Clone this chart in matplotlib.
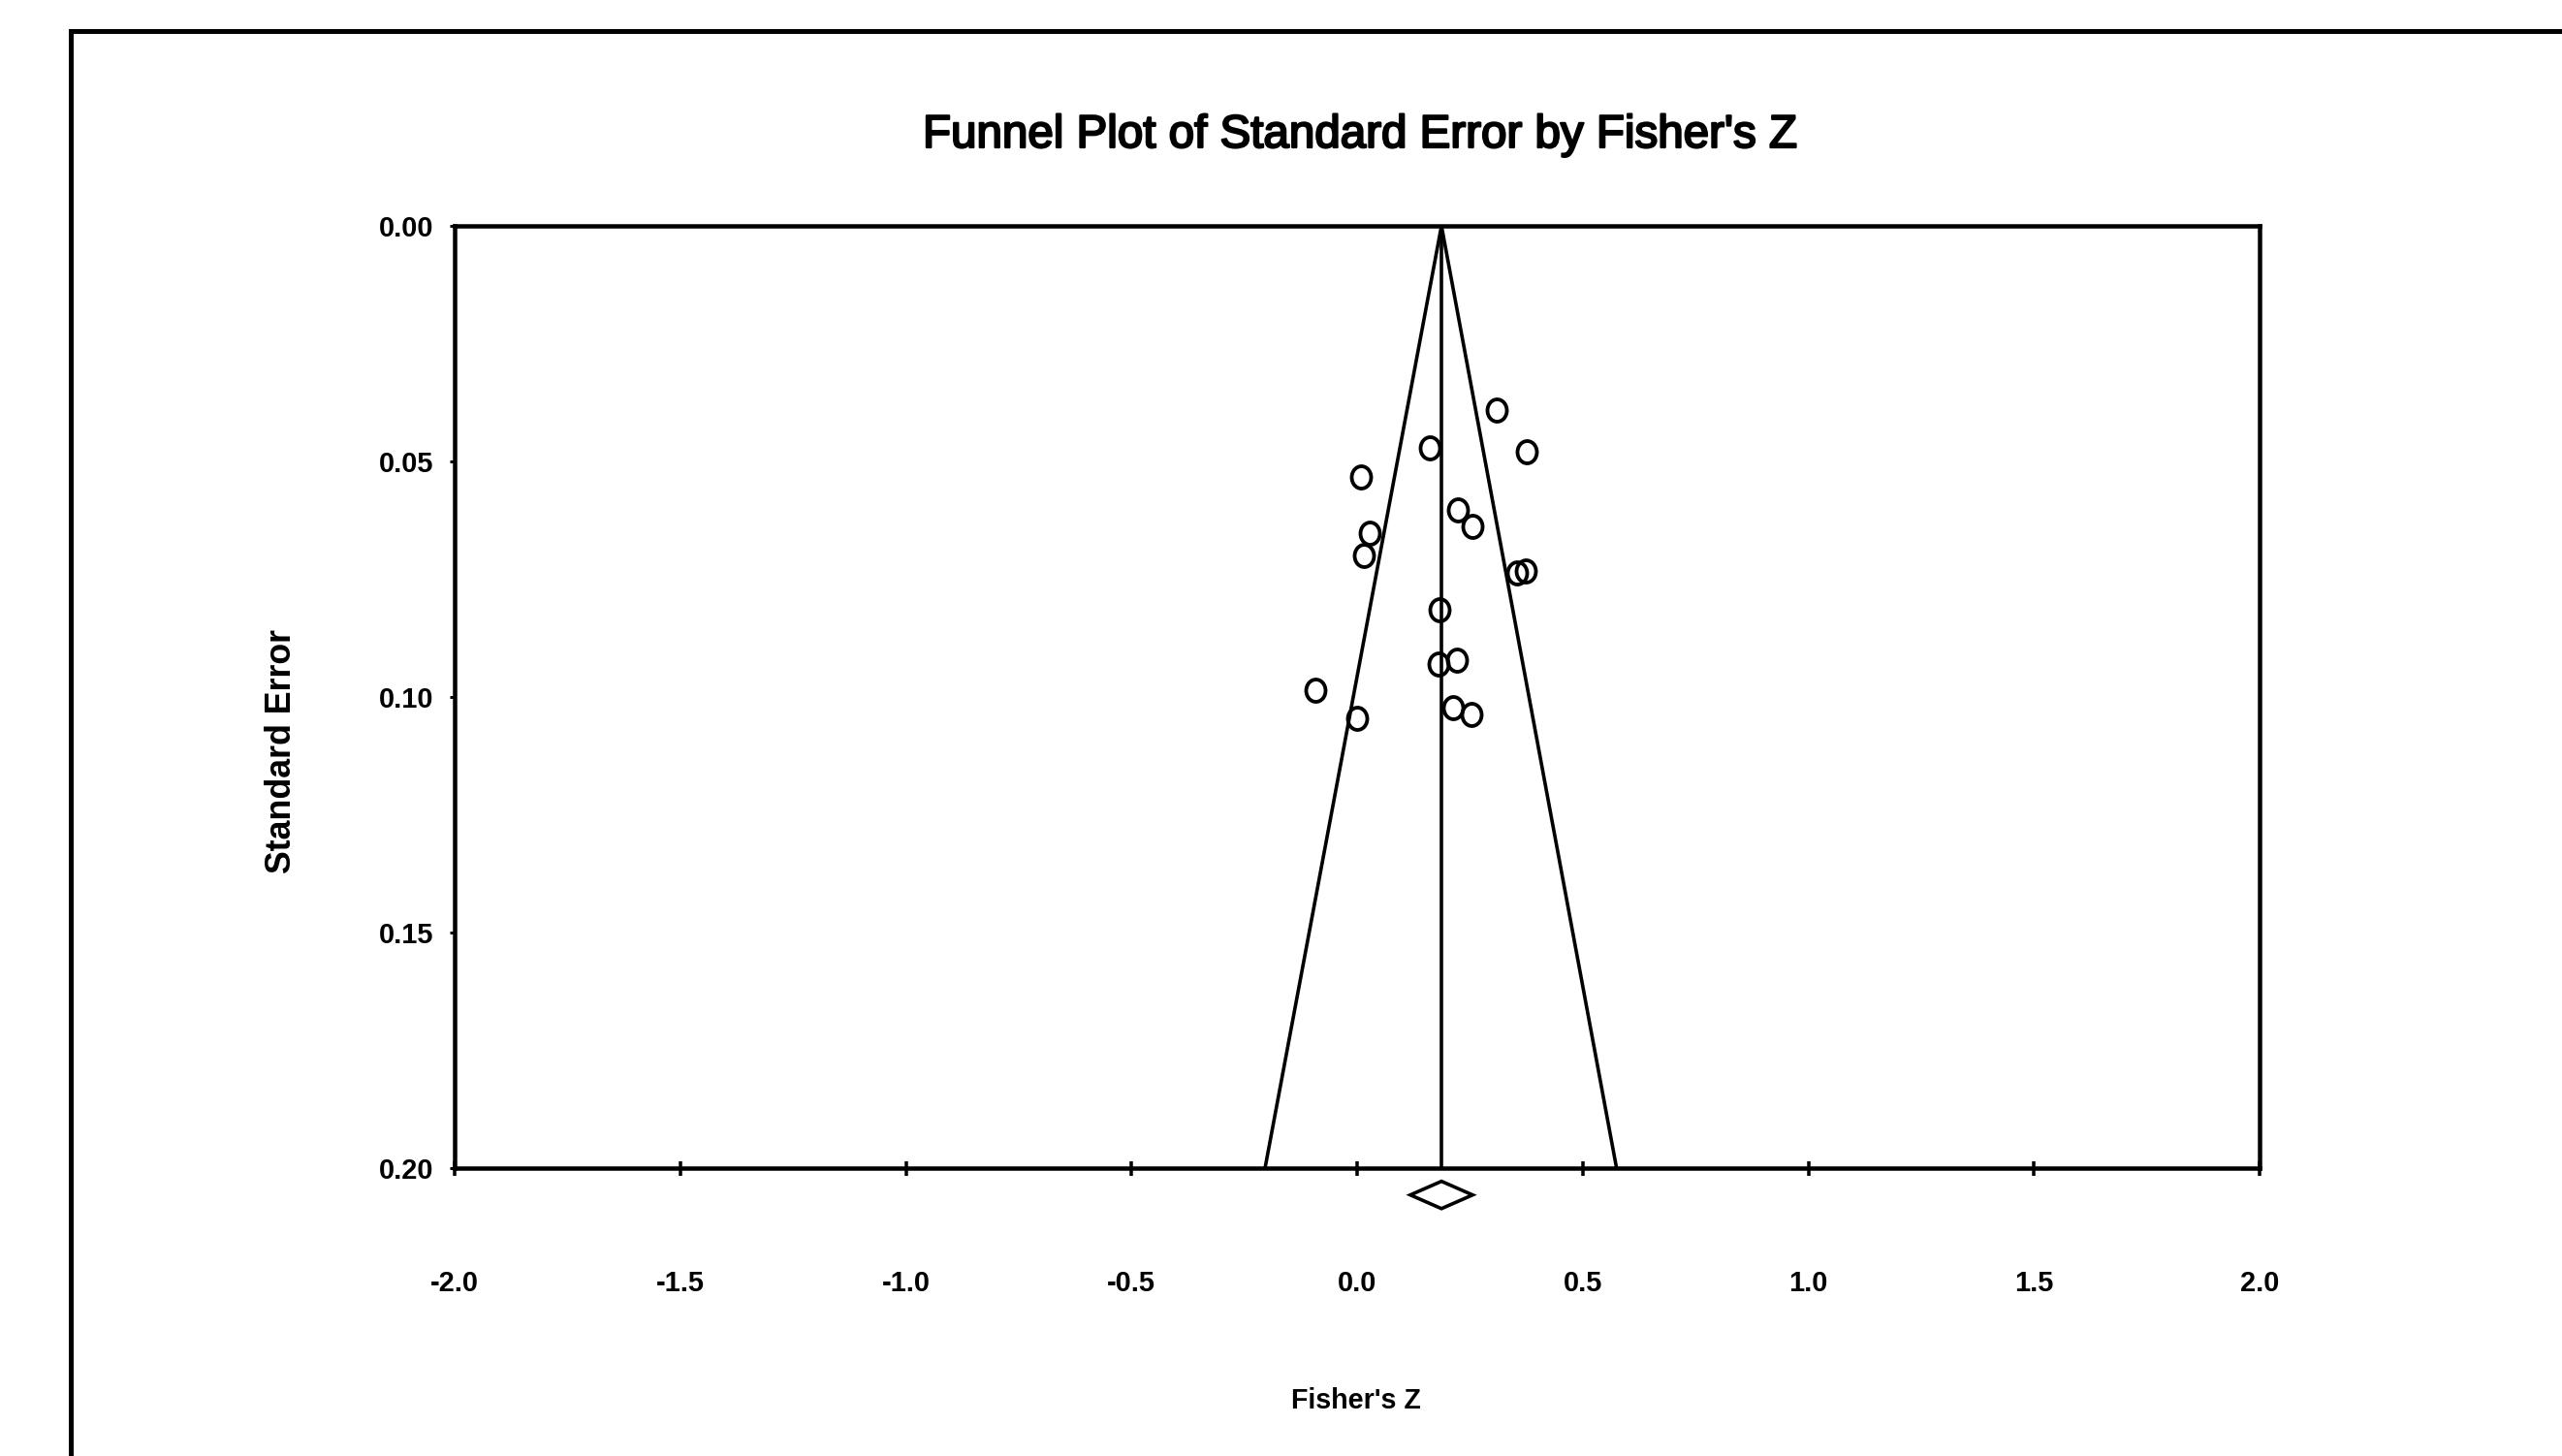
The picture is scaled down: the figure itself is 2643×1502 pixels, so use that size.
import matplotlib
matplotlib.use("Agg")
import matplotlib.pyplot as plt
from matplotlib import font_manager as fm
from matplotlib import patheffects as pe
from matplotlib.markers import MarkerStyle
from matplotlib.transforms import Affine2D
from matplotlib.lines import Line2D
from matplotlib.patches import Polygon

# ---------------- data ----------------
fisher_z = [0.309, 0.375, 0.162, 0.008, 0.223, 0.256, 0.027, 0.014, 0.354, 0.373,
            0.183, 0.181, 0.221, -0.093, 0.000, 0.213, 0.253]
std_err = [0.0390, 0.0480, 0.0471, 0.0532, 0.0602, 0.0637, 0.0652, 0.0699, 0.0736, 0.0732,
           0.0814, 0.0930, 0.0922, 0.0985, 0.1045, 0.1023, 0.1037]

mean_z = 0.187            # combined effect (vertical line)
ci_low, ci_high = 0.118, 0.256   # diamond extent
diamond_se = 0.2057       # vertical position of the diamond (below axis)
diamond_half_h = 0.0029

funnel_se = [0.0, 0.20]
funnel_left = [0.187, -0.204]
funnel_right = [0.187, 0.575]

x_ticks = [-2.0, -1.5, -1.0, -0.5, 0.0, 0.5, 1.0, 1.5, 2.0]
x_tick_labels = ["-2.0", "-1.5", "-1.0", "-0.5", "0.0", "0.5", "1.0", "1.5", "2.0"]
y_ticks = [0.00, 0.05, 0.10, 0.15, 0.20]
y_tick_labels = ["0.00", "0.05", "0.10", "0.15", "0.20"]

title = "Funnel Plot of Standard Error by Fisher's Z"
x_label = "Fisher's Z"
y_label = "Standard Error"

# ---------------- figure ----------------
W, H = 2643, 1502
DPI = 100
PT = 72.0 / DPI
fig = plt.figure(figsize=(W / DPI, H / DPI), dpi=DPI)
fig.patch.set_facecolor("white")

names = {f.name for f in fm.fontManager.ttflist}
NARROW = "Liberation Sans Narrow" if "Liberation Sans Narrow" in names else "Liberation Sans"
BASE = "Liberation Sans"
tick_px = 35 if NARROW == "Liberation Sans Narrow" else 29

# outer frame (left and top edges only visible)
fig.add_artist(Line2D([73 / W, 73 / W], [0, 1 - 32 / H], transform=fig.transFigure,
                      color="black", lw=5 * PT, solid_capstyle="projecting"))
fig.add_artist(Line2D([73 / W, 1], [1 - 32 / H, 1 - 32 / H], transform=fig.transFigure,
                      color="black", lw=5 * PT, solid_capstyle="projecting"))

L, R, T, B = 469, 2331, 233, 1205
ax = fig.add_axes([L / W, 1 - B / H, (R - L) / W, (B - T) / H])
ax.set_xlim(-2.0, 2.0)
ax.set_ylim(0.20, 0.0)

LW = 3.6 * PT
# funnel lines
ax.plot(funnel_left, funnel_se, color="black", lw=LW, solid_capstyle="butt")
ax.plot(funnel_right, funnel_se, color="black", lw=LW, solid_capstyle="butt")
# mean line
ax.plot([mean_z, mean_z], funnel_se, color="black", lw=LW, solid_capstyle="butt")

# study points (slightly tall open circles)
mk = MarkerStyle("o", transform=Affine2D().scale(1.0, 1.15))
ax.plot(fisher_z, std_err, linestyle="none", marker=mk, markersize=20 * PT,
        markerfacecolor="none", markeredgecolor="black", markeredgewidth=3.8 * PT)

# diamond of combined effect
dia = Polygon([[ci_low, diamond_se], [mean_z, diamond_se - diamond_half_h],
               [ci_high, diamond_se], [mean_z, diamond_se + diamond_half_h]],
              closed=True, facecolor="none", edgecolor="black", lw=3.6 * PT, clip_on=False)
ax.add_patch(dia)

for s in ax.spines.values():
    s.set_linewidth(4.5 * PT)
    s.set_color("black")

ax.set_xticks(x_ticks)
ax.set_xticklabels(x_tick_labels)
ax.set_yticks(y_ticks)
ax.set_yticklabels(y_tick_labels)
ax.tick_params(axis="x", direction="inout", length=15 * PT, width=3.5 * PT,
               pad=98 * PT, top=False)
ax.tick_params(axis="y", direction="out", length=5 * PT, width=3 * PT,
               pad=17 * PT, right=False)
for lab in ax.get_xticklabels() + ax.get_yticklabels():
    lab.set_fontfamily(NARROW)
    lab.set_fontweight("bold")
    lab.set_fontsize(tick_px * PT)

t_title = fig.text(1403 / W, 1 - 152 / H, title, ha="center", va="baseline",
                   family=BASE, fontweight="normal", fontsize=47 * PT,
                   path_effects=[pe.withStroke(linewidth=1.6, foreground="black")])
t_x = fig.text(1399 / W, 1 - 1453 / H, x_label, ha="center", va="baseline",
               family=NARROW, fontweight="bold", fontsize=35 * PT)
t_y = fig.text(291 / W, 1 - 775 / H, y_label, ha="center", va="center", rotation=90,
               family=BASE, fontweight="bold", fontsize=36 * PT)

def fit(t, target, use_height=False):
    fig.canvas.draw()
    r = fig.canvas.get_renderer()
    bb = t.get_window_extent(r)
    cur = bb.height if use_height else bb.width
    t.set_fontsize(t.get_fontsize() * target / cur)

fit(t_title, 902)
fit(t_x, 134)
fit(t_y, 253, use_height=True)

fig.savefig("out.png", dpi=DPI, facecolor="white")
